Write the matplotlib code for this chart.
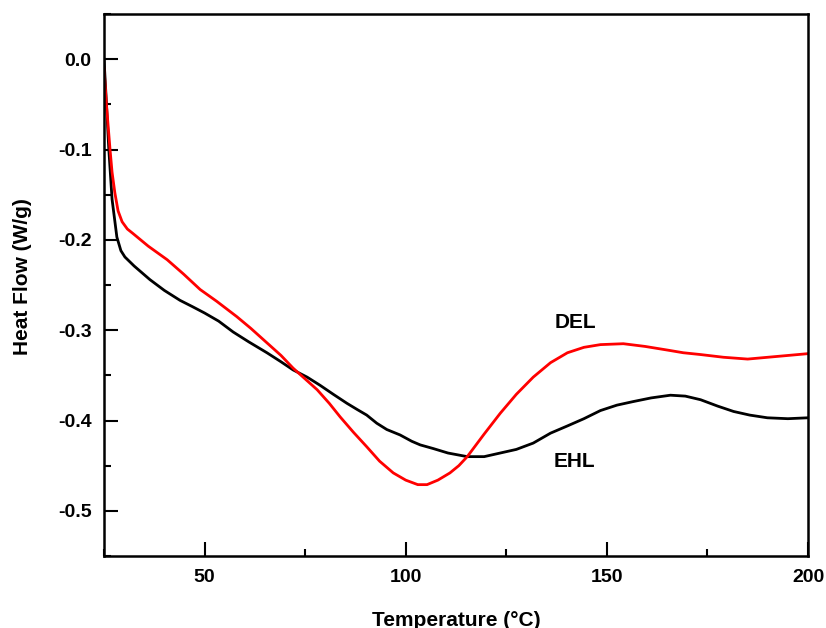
import matplotlib
matplotlib.use("Agg")
import matplotlib.pyplot as plt
from matplotlib.ticker import MultipleLocator

plt.rcParams['font.family'] = ['Liberation Sans', 'DejaVu Sans']
plt.rcParams['font.weight'] = 'bold'

# DSC curves: temperature (°C) and heat flow (W/g)
ehl_temp = [25.0, 25.5, 26.2, 27.0, 28.2, 29.2, 30.2, 32.5, 36.4, 40.0, 43.9, 47.0,
            50.0, 53.5, 57.1, 61.0, 65.5, 69.0, 72.0, 75.5, 78.7, 82.0, 85.4, 88.0,
            90.3, 92.8, 95.3, 98.6, 101.5, 103.6, 106.8, 110.5, 115.3, 119.5, 123.5,
            127.5, 131.7, 136.0, 140.2, 144.3, 148.4, 152.5, 156.6, 161.0, 165.8,
            169.5, 173.3, 177.5, 181.5, 185.5, 189.9, 195.0, 200.0]
ehl_flow = [0.0, -0.04, -0.10, -0.155, -0.197, -0.212, -0.219, -0.229, -0.244, -0.256,
            -0.267, -0.274, -0.281, -0.290, -0.302, -0.313, -0.325, -0.335, -0.344,
            -0.352, -0.361, -0.371, -0.381, -0.388, -0.394, -0.403, -0.410, -0.416,
            -0.423, -0.427, -0.431, -0.436, -0.440, -0.440, -0.436, -0.432, -0.425,
            -0.414, -0.406, -0.398, -0.389, -0.383, -0.379, -0.375, -0.372, -0.373,
            -0.377, -0.384, -0.390, -0.394, -0.397, -0.398, -0.397]

del_temp = [25.0, 25.6, 26.5, 27.0, 27.7, 28.5, 29.5, 30.8, 32.2, 36.0, 40.7, 44.8,
            48.9, 53.0, 58.0, 61.5, 65.5, 69.0, 72.0, 75.0, 78.0, 81.0, 83.7, 87.0,
            90.3, 93.5, 96.9, 100.0, 103.0, 105.3, 108.0, 111.0, 113.2, 115.3, 119.5,
            123.5, 127.5, 131.7, 136.0, 140.2, 144.3, 148.4, 154.1, 159.5, 165.0,
            169.0, 173.3, 179.0, 185.0, 192.5, 200.0]
del_flow = [-0.01, -0.05, -0.10, -0.125, -0.148, -0.168, -0.180, -0.188, -0.193, -0.207,
            -0.222, -0.238, -0.255, -0.268, -0.285, -0.298, -0.314, -0.328, -0.342,
            -0.354, -0.366, -0.381, -0.396, -0.413, -0.429, -0.445, -0.458, -0.466,
            -0.471, -0.471, -0.466, -0.458, -0.450, -0.440, -0.415, -0.392, -0.371,
            -0.352, -0.336, -0.325, -0.319, -0.316, -0.315, -0.318, -0.322, -0.325,
            -0.327, -0.330, -0.332, -0.329, -0.326]

fig = plt.figure(figsize=(8.26, 6.28), dpi=100)
ax = fig.add_axes([104 / 826, 1 - 556 / 628, (808 - 104) / 826, (556 - 14) / 628])

ax.plot(ehl_temp, ehl_flow, color='black', lw=2.0)
ax.plot(del_temp, del_flow, color='#ff0000', lw=2.0)

ax.text(142.2, -0.291, 'DEL', fontsize=15, fontweight='bold', ha='center', va='center')
ax.text(141.9, -0.445, 'EHL', fontsize=15, fontweight='bold', ha='center', va='center')

ax.set_xlim(25, 200)
ax.set_ylim(-0.55, 0.05)
ax.xaxis.set_major_locator(MultipleLocator(50))
ax.xaxis.set_minor_locator(MultipleLocator(25))
ax.yaxis.set_major_locator(MultipleLocator(0.1))
ax.yaxis.set_minor_locator(MultipleLocator(0.05))
ax.set_yticks([0.0, -0.1, -0.2, -0.3, -0.4, -0.5])
ax.set_yticklabels(['0.0', '-0.1', '-0.2', '-0.3', '-0.4', '-0.5'])
ax.set_xticks([50, 100, 150, 200])

ax.tick_params(which='both', direction='in', width=1.5, top=False, right=False,
               labelsize=14)
ax.tick_params(which='major', length=10, pad=9)
ax.tick_params(which='minor', length=5)
for lbl in ax.get_xticklabels() + ax.get_yticklabels():
    lbl.set_fontweight('bold')
for sp in ax.spines.values():
    sp.set_linewidth(1.8)

ax.set_xlabel('Temperature (°C)', fontsize=15, fontweight='bold', labelpad=18)
ax.set_ylabel('Heat Flow (W/g)', fontsize=15, fontweight='bold')
ax.yaxis.set_label_coords(-0.102, 0.515)

fig.savefig('out.png', dpi=100)
